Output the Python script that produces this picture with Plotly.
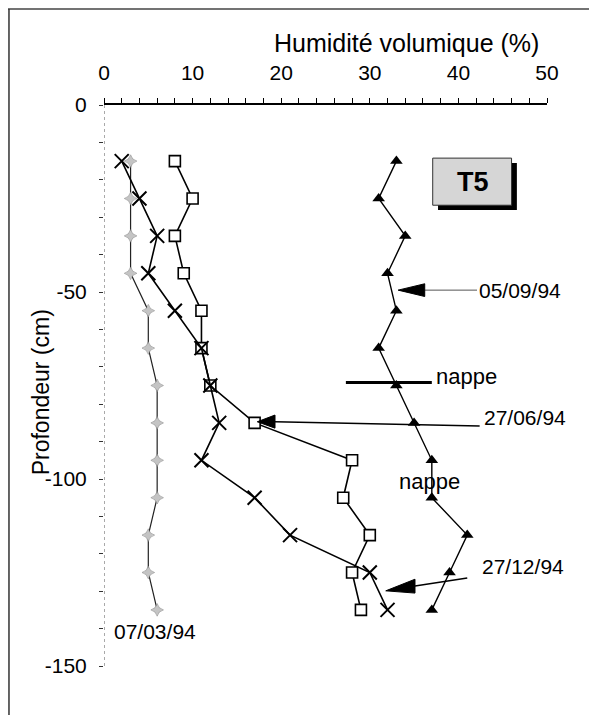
import plotly.graph_objects as go

# Depths (cm)
depth = [-15, -25, -35, -45, -55, -65, -75, -85, -95, -105, -115, -125, -135]

# Volumetric moisture (%) per date
h_070394 = [3, 3, 3, 3, 5, 5, 6, 6, 6, 6, 5, 5, 6]
h_270694 = [8, 10, 8, 9, 11, 11, 12, 17, 28, 27, 30, 28, 29]
h_271294 = [2, 4, 6, 5, 8, 11, 12, 13, 11, 17, 21, 30, 32]
h_050994 = [33, 31, 34, 32, 33, 31, 33, 35, 37, 37, 41, 39, 37]

x_ticks = [0, 10, 20, 30, 40, 50]
y_ticks = [0, -50, -100, -150]
y_ticklabels = ["0", "-50", "-100", "-150"]

FONT = "Arial, Liberation Sans, sans-serif"

fig = go.Figure()

fig.add_trace(go.Scatter(
    x=h_070394, y=depth, mode="lines+markers", name="07/03/94",
    line=dict(color="#222", width=1.2),
    marker=dict(symbol="star-diamond", size=9, color="#c4c4c4",
                line=dict(color="#8a8a8a", width=0.6)),
))
fig.add_trace(go.Scatter(
    x=h_270694, y=depth, mode="lines+markers", name="27/06/94",
    line=dict(color="black", width=1.6),
    marker=dict(symbol="square", size=11, color="white",
                line=dict(color="black", width=1.6)),
))
fig.add_trace(go.Scatter(
    x=h_271294, y=depth, mode="lines+markers", name="27/12/94",
    line=dict(color="black", width=1.6),
    marker=dict(symbol="x-thin", size=14, color="black",
                line=dict(color="black", width=2)),
))
fig.add_trace(go.Scatter(
    x=h_050994, y=depth, mode="lines+markers", name="05/09/94",
    line=dict(color="black", width=1.4),
    marker=dict(symbol="triangle-up", size=11, color="black"),
))

shapes = []
# outer frame (top and left)
shapes.append(dict(type="line", xref="paper", yref="paper",
                   x0=-0.2167, x1=1.2, y0=1.171, y1=1.171,
                   line=dict(color="#444", width=1.5)))
shapes.append(dict(type="line", xref="paper", yref="paper",
                   x0=-0.2145, x1=-0.2145, y0=1.171, y1=-0.12,
                   line=dict(color="#333", width=1.5)))
# dashed left axis
shapes.append(dict(type="line", xref="x", yref="y", x0=0, x1=0, y0=0, y1=-150,
                   line=dict(color="#555", width=1, dash="dot")))
# T5 box: shadow then box
shapes.append(dict(type="rect", xref="x", yref="y", x0=37.7, x1=46.6, y0=-15.5, y1=-28.1,
                   fillcolor="black", line=dict(width=0)))
shapes.append(dict(type="rect", xref="x", yref="y", x0=37.1, x1=46.0, y0=-14.2, y1=-26.8,
                   fillcolor="#d6d6d6", line=dict(color="#333", width=1)))
# 05/09/94 arrow
shapes.append(dict(type="line", xref="x", yref="y", x0=36.2, x1=42.1, y0=-49.5, y1=-49.5,
                   line=dict(color="#555", width=1)))
shapes.append(dict(type="path", xref="x", yref="y",
                   path="M 33.2,-49.5 L 36.2,-47.8 L 36.2,-51.2 Z",
                   fillcolor="black", line=dict(color="black", width=1)))
# 27/06/94 arrow
shapes.append(dict(type="line", xref="x", yref="y", x0=19.3, x1=42.4, y0=-84.7, y1=-85.8,
                   line=dict(color="black", width=1.5)))
shapes.append(dict(type="path", xref="x", yref="y",
                   path="M 17.3,-84.7 L 19.3,-82.9 L 19.3,-86.4 Z",
                   fillcolor="black", line=dict(color="black", width=1)))
# 27/12/94 arrow
shapes.append(dict(type="line", xref="x", yref="y", x0=35.1, x1=41.0, y0=-128.6, y1=-126.5,
                   line=dict(color="black", width=1.5)))
shapes.append(dict(type="path", xref="x", yref="y",
                   path="M 31.8,-129.9 L 35.1,-126.8 L 35.1,-130.5 Z",
                   fillcolor="black", line=dict(color="black", width=1)))
# nappe thick line
shapes.append(dict(type="line", xref="x", yref="y", x0=27.3, x1=37.0, y0=-74.2, y1=-74.2,
                   line=dict(color="black", width=3)))

annotations = [
    dict(x=41.6, y=-20.7, xref="x", yref="y", text="<b>T5</b>", showarrow=False,
         font=dict(size=27, color="black", family=FONT)),
    dict(x=42.1, y=-49.5, xref="x", yref="y", text="05/09/94", showarrow=False,
         xanchor="left", font=dict(size=21, color="black", family=FONT)),
    dict(x=42.7, y=-83.6, xref="x", yref="y", text="27/06/94", showarrow=False,
         xanchor="left", font=dict(size=21, color="black", family=FONT)),
    dict(x=42.4, y=-123.3, xref="x", yref="y", text="27/12/94", showarrow=False,
         xanchor="left", font=dict(size=21, color="black", family=FONT)),
    dict(x=37.2, y=-72.7, xref="x", yref="y", text="nappe", showarrow=False,
         xanchor="left", font=dict(size=22, color="black", family=FONT)),
    dict(x=36.7, y=-100.8, xref="x", yref="y", text="nappe", showarrow=False,
         xanchor="center", font=dict(size=22, color="black", family=FONT)),
    dict(x=5.8, y=-140.8, xref="x", yref="y", text="07/03/94", showarrow=False,
         xanchor="center", font=dict(size=21, color="black", family=FONT)),
    # axis titles
    dict(x=0.682, y=1.1105, xref="paper", yref="paper", text="Humidité volumique (%)",
         showarrow=False, xanchor="center", yanchor="middle",
         font=dict(size=25, color="black", family=FONT)),
    dict(x=-0.142, y=0.488, xref="paper", yref="paper", text="Profondeur (cm)",
         textangle=-90, showarrow=False, xanchor="center", yanchor="middle",
         font=dict(size=23, color="black", family=FONT)),
]

fig.update_layout(
    width=589, height=707,
    margin=dict(l=96, r=50, t=97, b=49),
    paper_bgcolor="white", plot_bgcolor="white",
    showlegend=False,
    font=dict(family=FONT, color="black", size=21),
    shapes=shapes,
    annotations=annotations,
    xaxis=dict(
        side="top", range=[0, 50], tickvals=x_ticks, ticks="outside",
        ticklen=5, tickwidth=1, tickcolor="black",
        minor=dict(dtick=2, ticks="outside", ticklen=5, tickcolor="black", tickwidth=1),
        showline=True, linecolor="black", linewidth=1.5,
        showgrid=False, zeroline=False,
        tickfont=dict(size=21), ticklabelstandoff=10,
        automargin=False,
    ),
    yaxis=dict(
        range=[-150, 0], tickvals=y_ticks, ticktext=y_ticklabels, ticks="outside",
        ticklen=4, tickwidth=1, tickcolor="#333",
        minor=dict(dtick=10, ticks="outside", ticklen=4, tickcolor="#333", tickwidth=1),
        showline=False, showgrid=False, zeroline=False,
        tickfont=dict(size=21), ticklabelstandoff=8,
        automargin=False,
    ),
)

fig.write_html("out.html")
